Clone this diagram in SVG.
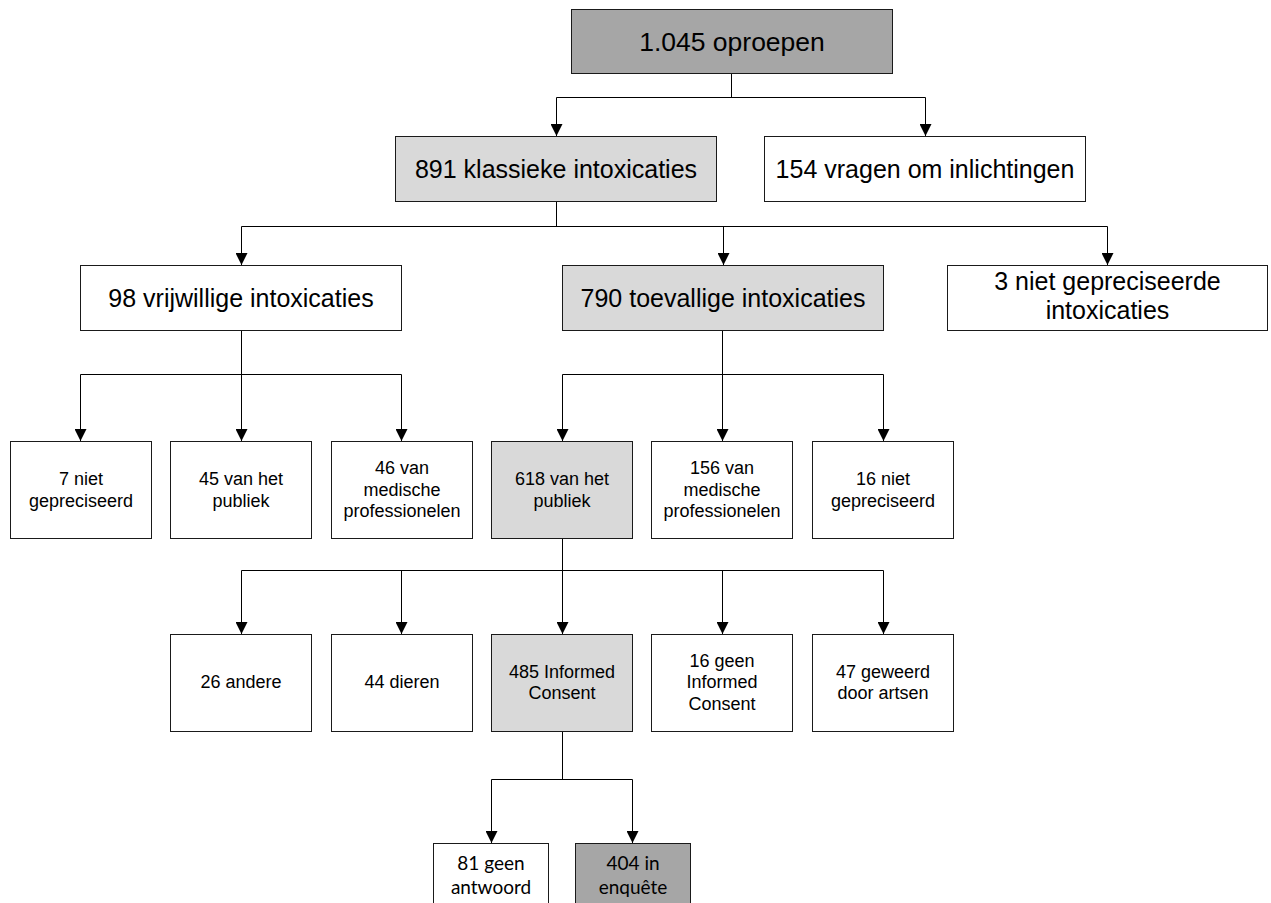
<svg xmlns="http://www.w3.org/2000/svg" width="1271" height="903" viewBox="0 0 1271 903">
<style>
.box{stroke:#1a1a1a;stroke-width:1}
.w{fill:#ffffff}
.lg{fill:#d9d9d9}
.dg{fill:#a6a6a6}
.t{font-family:"Liberation Sans",Arial,sans-serif;fill:#000;text-anchor:middle}
.t27{font-size:26.5px}
.t25{font-size:25px}
.t18{font-size:18px}
.c{font-family:Lato,"Open Sans",sans-serif;font-size:19px;fill:#000;text-anchor:middle}
.ln{fill:none;stroke:#000;stroke-width:1}
</style>
<defs>
<marker id="ah" markerUnits="userSpaceOnUse" markerWidth="12" markerHeight="12" refX="12" refY="6" orient="auto" viewBox="0 0 12 12">
<path d="M0,0 L12,6 L0,12 z" fill="#000"/>
</marker>
</defs>
<rect width="1271" height="903" fill="#ffffff"/>
<g id="connectors">
<path class="ln" d="M731.5,73 V97.5 M556.5,97.5 H925.5"/>
<path class="ln" d="M556.5,97.5 V136" marker-end="url(#ah)"/>
<path class="ln" d="M925.5,97.5 V136" marker-end="url(#ah)"/>
<path class="ln" d="M556.5,201 V226.5 M241.5,226.5 H1107.5"/>
<path class="ln" d="M241.5,226.5 V265" marker-end="url(#ah)"/>
<path class="ln" d="M723.5,226.5 V265" marker-end="url(#ah)"/>
<path class="ln" d="M1107.5,226.5 V265" marker-end="url(#ah)"/>
<path class="ln" d="M241.5,330 V374.5 M80.5,374.5 H401.5"/>
<path class="ln" d="M80.5,374.5 V441" marker-end="url(#ah)"/>
<path class="ln" d="M241.5,374.5 V441" marker-end="url(#ah)"/>
<path class="ln" d="M401.5,374.5 V441" marker-end="url(#ah)"/>
<path class="ln" d="M722.5,330 V374.5 M562.5,374.5 H883.5"/>
<path class="ln" d="M562.5,374.5 V441" marker-end="url(#ah)"/>
<path class="ln" d="M722.5,374.5 V441" marker-end="url(#ah)"/>
<path class="ln" d="M883.5,374.5 V441" marker-end="url(#ah)"/>
<path class="ln" d="M562.5,538 V570.5 M241.5,570.5 H883.5"/>
<path class="ln" d="M241.5,570.5 V634" marker-end="url(#ah)"/>
<path class="ln" d="M401.5,570.5 V634" marker-end="url(#ah)"/>
<path class="ln" d="M562.5,570.5 V634" marker-end="url(#ah)"/>
<path class="ln" d="M722.5,570.5 V634" marker-end="url(#ah)"/>
<path class="ln" d="M883.5,570.5 V634" marker-end="url(#ah)"/>
<path class="ln" d="M562.5,731 V779.5 M491.5,779.5 H632.5"/>
<path class="ln" d="M491.5,779.5 V843" marker-end="url(#ah)"/>
<path class="ln" d="M632.5,779.5 V843" marker-end="url(#ah)"/>
</g>
<g id="n1045"><rect class="box dg" x="571.5" y="9.5" width="321" height="64"/><text class="t t27" x="732" y="50.5">1.045 oproepen</text></g>
<g id="n891"><rect class="box lg" x="395.5" y="136.5" width="321" height="65"/><text class="t t25" x="556" y="177.5">891 klassieke intoxicaties</text></g>
<g id="n154"><rect class="box w" x="764.5" y="136.5" width="321" height="65"/><text class="t t25" x="925" y="177.5">154 vragen om inlichtingen</text></g>
<g id="n98"><rect class="box w" x="80.5" y="265.5" width="321" height="65"/><text class="t t25" x="241" y="306.5">98 vrijwillige intoxicaties</text></g>
<g id="n790"><rect class="box lg" x="562.5" y="265.5" width="321" height="65"/><text class="t t25" x="723" y="306.5">790 toevallige intoxicaties</text></g>
<g id="n3"><rect class="box w" x="947.5" y="265.5" width="320" height="65"/><text class="t t25" x="1107.5" y="290">3 niet gepreciseerde</text><text class="t t25" x="1107.5" y="319">intoxicaties</text></g>
<g id="n7"><rect class="box w" x="10.5" y="441.5" width="141" height="97"/><text class="t t18" x="81" y="485">7 niet</text><text class="t t18" x="81" y="506.5">gepreciseerd</text></g>
<g id="n45"><rect class="box w" x="170.5" y="441.5" width="141" height="97"/><text class="t t18" x="241" y="485">45 van het</text><text class="t t18" x="241" y="506.5">publiek</text></g>
<g id="n46"><rect class="box w" x="331.5" y="441.5" width="141" height="97"/><text class="t t18" x="402" y="474">46 van</text><text class="t t18" x="402" y="495.5">medische</text><text class="t t18" x="402" y="517">professionelen</text></g>
<g id="n618"><rect class="box lg" x="491.5" y="441.5" width="141" height="97"/><text class="t t18" x="562" y="485">618 van het</text><text class="t t18" x="562" y="506.5">publiek</text></g>
<g id="n156"><rect class="box w" x="651.5" y="441.5" width="141" height="97"/><text class="t t18" x="722" y="474">156 van</text><text class="t t18" x="722" y="495.5">medische</text><text class="t t18" x="722" y="517">professionelen</text></g>
<g id="n16a"><rect class="box w" x="812.5" y="441.5" width="141" height="97"/><text class="t t18" x="883" y="485">16 niet</text><text class="t t18" x="883" y="506.5">gepreciseerd</text></g>
<g id="n26"><rect class="box w" x="170.5" y="634.5" width="141" height="97"/><text class="t t18" x="241" y="688">26 andere</text></g>
<g id="n44"><rect class="box w" x="331.5" y="634.5" width="141" height="97"/><text class="t t18" x="402" y="688">44 dieren</text></g>
<g id="n485"><rect class="box lg" x="491.5" y="634.5" width="141" height="97"/><text class="t t18" x="562" y="677.5">485 Informed</text><text class="t t18" x="562" y="699">Consent</text></g>
<g id="n16b"><rect class="box w" x="651.5" y="634.5" width="141" height="97"/><text class="t t18" x="722" y="666.5">16 geen</text><text class="t t18" x="722" y="688">Informed</text><text class="t t18" x="722" y="709.5">Consent</text></g>
<g id="n47"><rect class="box w" x="812.5" y="634.5" width="141" height="97"/><text class="t t18" x="883" y="677.5">47 geweerd</text><text class="t t18" x="883" y="699">door artsen</text></g>
<g id="n81"><rect class="box w" x="433.5" y="843.5" width="115" height="100"/><text class="c" x="491" y="870">81 geen</text><text class="c" x="491" y="894">antwoord</text></g>
<g id="n404"><rect class="box dg" x="575.5" y="843.5" width="115" height="100"/><text class="c" x="633" y="870">404 in</text><text class="c" x="633" y="894">enquête</text></g>
</svg>
